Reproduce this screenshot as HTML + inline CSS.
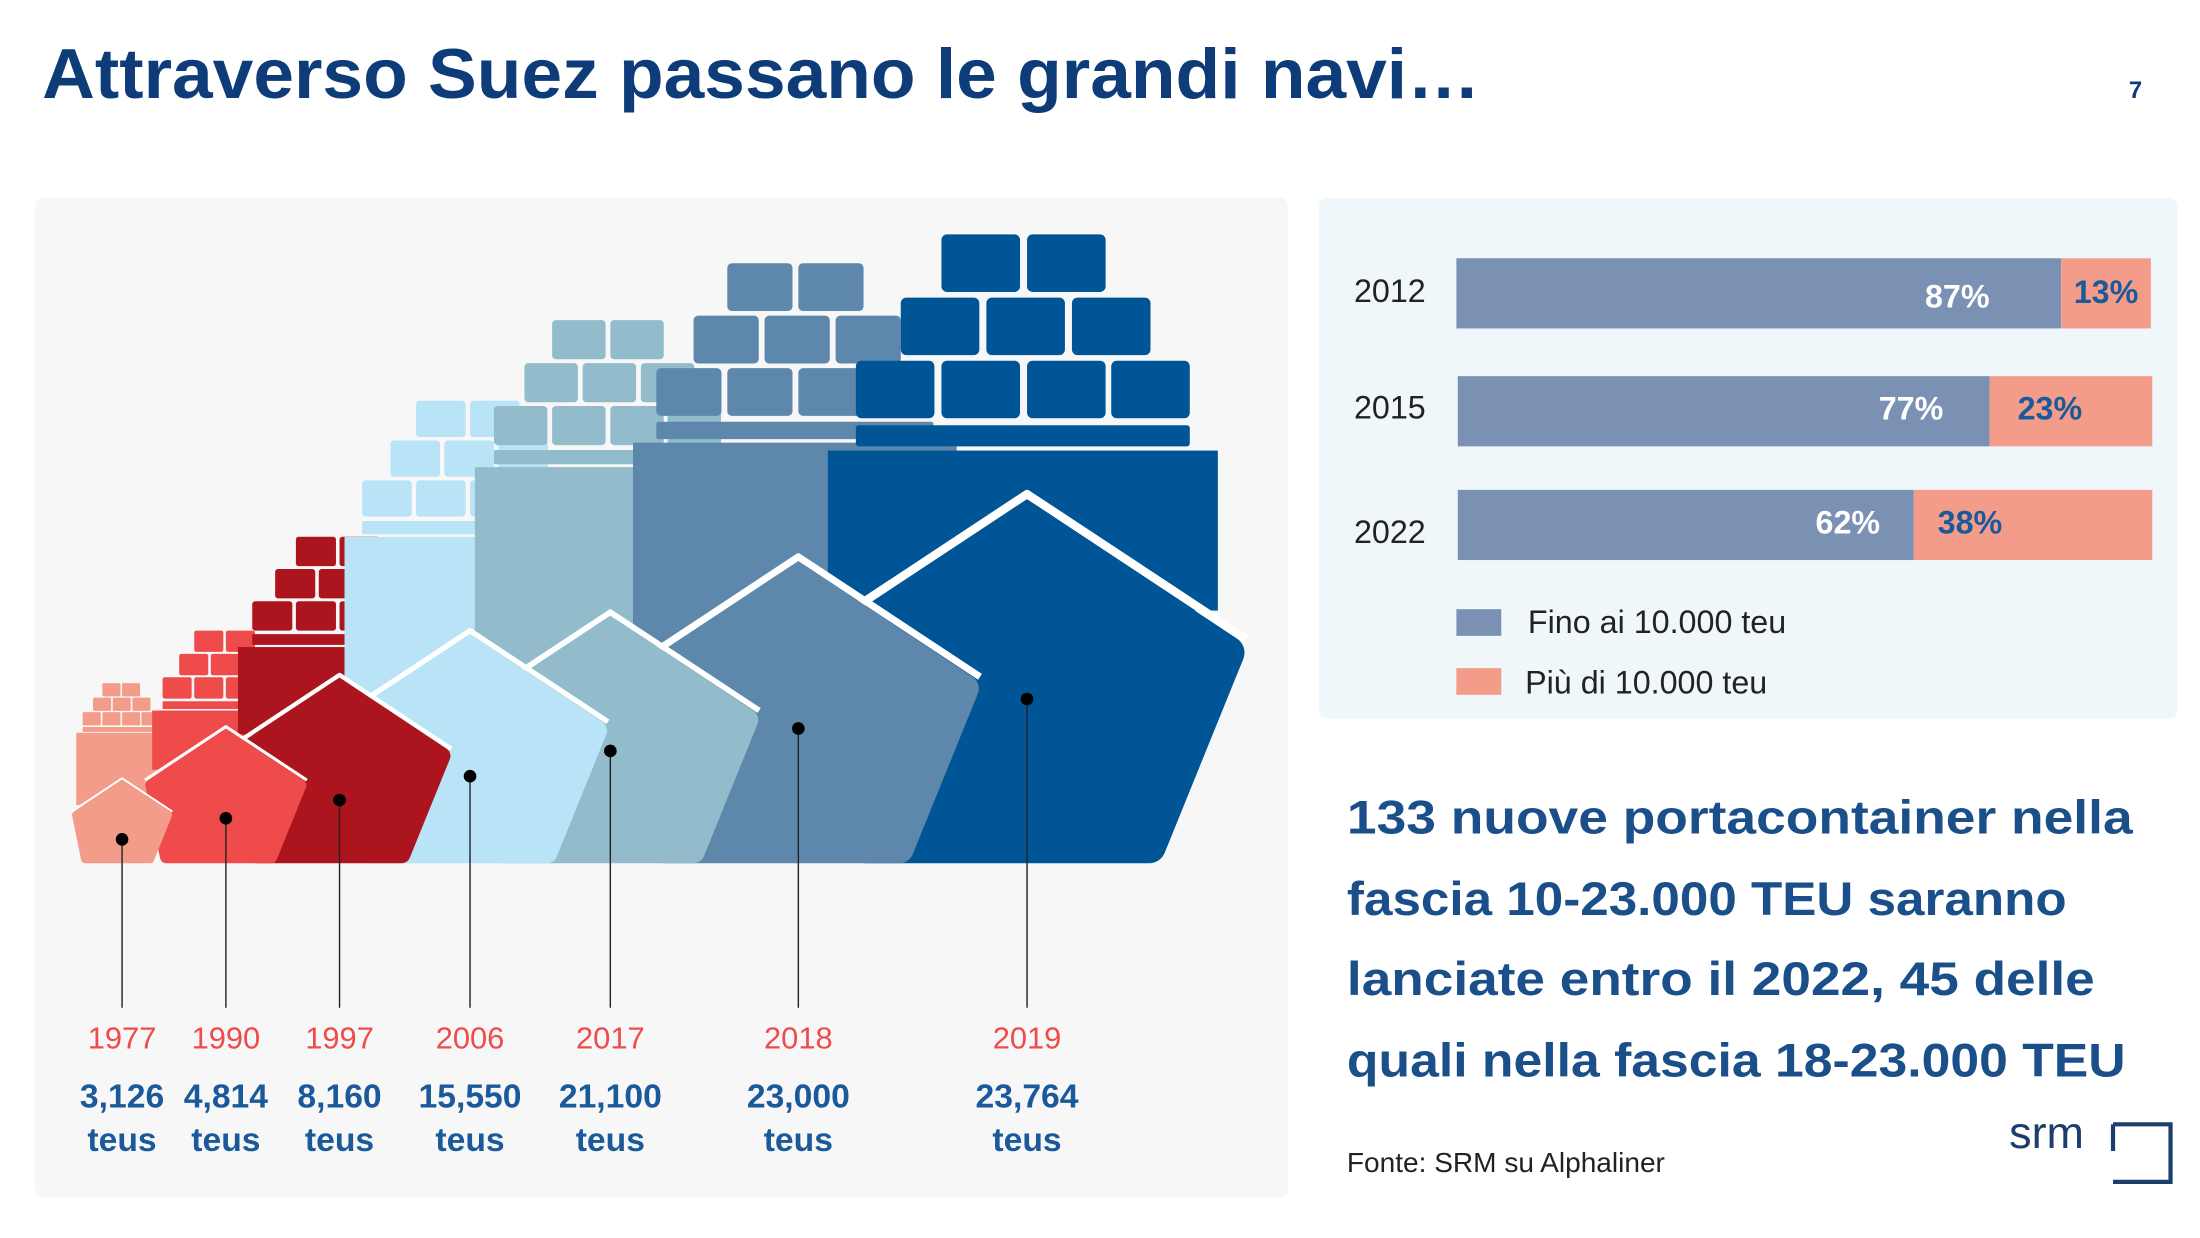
<!DOCTYPE html>
<html><head><meta charset="utf-8"><style>
html,body{margin:0;padding:0;background:#fff;}
svg{display:block;}
text{font-family:"Liberation Sans","DejaVu Sans",sans-serif;}
</style></head><body>
<svg width="2200" height="1238" viewBox="0 0 1568 882" preserveAspectRatio="none" xmlns="http://www.w3.org/2000/svg">
<defs>
<g id="top">
<rect x="-122" y="-312" width="238" height="15" rx="2"/>
<rect x="-122" y="-358" width="56" height="41" rx="4"/>
<rect x="-61" y="-358" width="56" height="41" rx="4"/>
<rect x="0" y="-358" width="56" height="41" rx="4"/>
<rect x="60" y="-358" width="56" height="41" rx="4"/>
<rect x="-90" y="-403" width="56" height="41" rx="4"/>
<rect x="-29" y="-403" width="56" height="41" rx="4"/>
<rect x="32" y="-403" width="56" height="41" rx="4"/>
<rect x="-61" y="-448" width="56" height="41" rx="4"/>
<rect x="0" y="-448" width="56" height="41" rx="4"/>
</g>
<path id="hull" d="M-115,-12 L-143,-150 L0,-245 L143,-150 L87,-12 Z" stroke-width="24" stroke-linejoin="round"/>
<polyline id="stripe" points="-156,-160 0,-263 156,-160" fill="none" stroke="#fff" stroke-width="6" stroke-linejoin="round"/>
</defs>
<rect width="1568" height="882" fill="#fff"/>
<text x="30" y="70" font-size="50" font-weight="bold" fill="#0d3c78" textLength="1025" lengthAdjust="spacingAndGlyphs">Attraverso Suez passano le grandi navi…</text>
<text x="1522" y="70" font-size="17" font-weight="bold" fill="#0d3c78" text-anchor="middle">7</text>
<rect x="25" y="141" width="893" height="712" rx="6" fill="#f7f7f7"/>
<rect x="940" y="141" width="612" height="371" rx="6" fill="#eff7fb"/>

<g transform="translate(87,615) scale(0.23)" fill="#f49c8a">
<use href="#top" transform="translate(0,-110)"/><rect x="-142" y="-404" width="278" height="224"/></g>
<g transform="translate(161,615) scale(0.37)" fill="#ef4b4b">
<use href="#top"/><rect x="-142" y="-294" width="278" height="114"/></g>
<g transform="translate(242,615) scale(0.51)" fill="#ac141e">
<use href="#top" transform="translate(0,-8)"/><rect x="-142" y="-302" width="278" height="122"/></g>
<g transform="translate(335,615) scale(0.63)" fill="#b9e3f7">
<use href="#top" transform="translate(0,-75)"/><rect x="-142" y="-369" width="278" height="189"/></g>
<g transform="translate(435,615) scale(0.68)" fill="#92bccb">
<use href="#top" transform="translate(0,-121)"/><rect x="-142" y="-415" width="278" height="235"/></g>
<g transform="translate(569,615) scale(0.83)" fill="#5d88ab">
<use href="#top" transform="translate(0,-67)"/><rect x="-142" y="-361" width="278" height="181"/></g>
<g transform="translate(732,615) scale(1)" fill="#005596">
<use href="#top"/><rect x="-142" y="-294" width="278" height="114"/></g>

<g transform="translate(732,615) scale(1)" fill="#005596" stroke="#005596"><use href="#stripe"/><use href="#hull"/></g>
<g transform="translate(569,615) scale(0.83)" fill="#5d88ab" stroke="#5d88ab"><use href="#stripe"/><use href="#hull"/></g>
<g transform="translate(435,615) scale(0.68)" fill="#92bccb" stroke="#92bccb"><use href="#stripe"/><use href="#hull"/></g>
<g transform="translate(335,615) scale(0.63)" fill="#b9e3f7" stroke="#b9e3f7"><use href="#stripe"/><use href="#hull"/></g>
<g transform="translate(242,615) scale(0.51)" fill="#ac141e" stroke="#ac141e"><use href="#stripe"/><use href="#hull"/></g>
<g transform="translate(161,615) scale(0.37)" fill="#ef4b4b" stroke="#ef4b4b"><use href="#stripe"/><use href="#hull"/></g>
<g transform="translate(87,615) scale(0.23)" fill="#f49c8a" stroke="#f49c8a"><use href="#stripe"/><use href="#hull"/></g>

<g stroke="#222" stroke-width="1">
<line x1="87" y1="598" x2="87" y2="718"/><line x1="161" y1="583" x2="161" y2="718"/>
<line x1="242" y1="570" x2="242" y2="718"/><line x1="335" y1="553" x2="335" y2="718"/>
<line x1="435" y1="535" x2="435" y2="718"/><line x1="569" y1="519" x2="569" y2="718"/>
<line x1="732" y1="498" x2="732" y2="718"/></g>
<g fill="#000">
<circle cx="87" cy="598" r="4.5"/><circle cx="161" cy="583" r="4.5"/><circle cx="242" cy="570" r="4.5"/>
<circle cx="335" cy="553" r="4.5"/><circle cx="435" cy="535" r="4.5"/><circle cx="569" cy="519" r="4.5"/><circle cx="732" cy="498" r="4.5"/></g>

<g font-size="22" fill="#ef4b4b" text-anchor="middle">
<text x="87" y="747">1977</text><text x="161" y="747">1990</text><text x="242" y="747">1997</text>
<text x="335" y="747">2006</text><text x="435" y="747">2017</text><text x="569" y="747">2018</text><text x="732" y="747">2019</text></g>
<g font-size="24" font-weight="bold" fill="#1b5a9a" text-anchor="middle">
<text x="87" y="789">3,126</text><text x="161" y="789">4,814</text><text x="242" y="789">8,160</text>
<text x="335" y="789">15,550</text><text x="435" y="789">21,100</text><text x="569" y="789">23,000</text><text x="732" y="789">23,764</text>
<text x="87" y="820">teus</text><text x="161" y="820">teus</text><text x="242" y="820">teus</text>
<text x="335" y="820">teus</text><text x="435" y="820">teus</text><text x="569" y="820">teus</text><text x="732" y="820">teus</text></g>

<rect x="1038" y="184" width="431" height="50" fill="#7a91b4"/><rect x="1469" y="184" width="64" height="50" fill="#f49c8a"/>
<rect x="1039" y="268" width="379" height="50" fill="#7a91b4"/><rect x="1418" y="268" width="116" height="50" fill="#f49c8a"/>
<rect x="1039" y="349" width="325" height="50" fill="#7a91b4"/><rect x="1364" y="349" width="170" height="50" fill="#f49c8a"/>
<g font-size="23" fill="#222">
<text x="965" y="215">2012</text><text x="965" y="298">2015</text><text x="965" y="387">2022</text></g>
<g font-size="23" font-weight="bold">
<text x="1372" y="219" fill="#fff">87%</text><text x="1478" y="216" fill="#1b5a9a">13%</text>
<text x="1339" y="299" fill="#fff">77%</text><text x="1438" y="299" fill="#1b5a9a">23%</text>
<text x="1294" y="380" fill="#fff">62%</text><text x="1381" y="380" fill="#1b5a9a">38%</text></g>
<rect x="1038" y="434" width="32" height="19" fill="#7a91b4"/>
<rect x="1038" y="476" width="32" height="19" fill="#f49c8a"/>
<g font-size="23" fill="#222">
<text x="1089" y="451">Fino ai 10.000 teu</text><text x="1087" y="494">Più di 10.000 teu</text></g>

<g font-size="34" font-weight="bold" fill="#1b4f8a">
<text x="960" y="594" textLength="560" lengthAdjust="spacingAndGlyphs">133 nuove portacontainer nella</text>
<text x="960" y="652" textLength="513" lengthAdjust="spacingAndGlyphs">fascia 10-23.000 TEU saranno</text>
<text x="960" y="709" textLength="533" lengthAdjust="spacingAndGlyphs">lanciate entro il 2022, 45 delle</text>
<text x="960" y="767" textLength="555" lengthAdjust="spacingAndGlyphs">quali nella fascia 18-23.000 TEU</text></g>
<text x="960" y="835" font-size="20" fill="#222">Fonte: SRM su Alphaliner</text>
<text x="1432" y="818" font-size="32" fill="#1b3f6a" font-family="Liberation Serif,serif">srm</text>
<polyline points="1506,801 1547,801 1547,842 1506,842" fill="none" stroke="#1b3f6a" stroke-width="3"/>
<line x1="1506" y1="801" x2="1506" y2="820" stroke="#1b3f6a" stroke-width="3"/>
</svg>
</body></html>
